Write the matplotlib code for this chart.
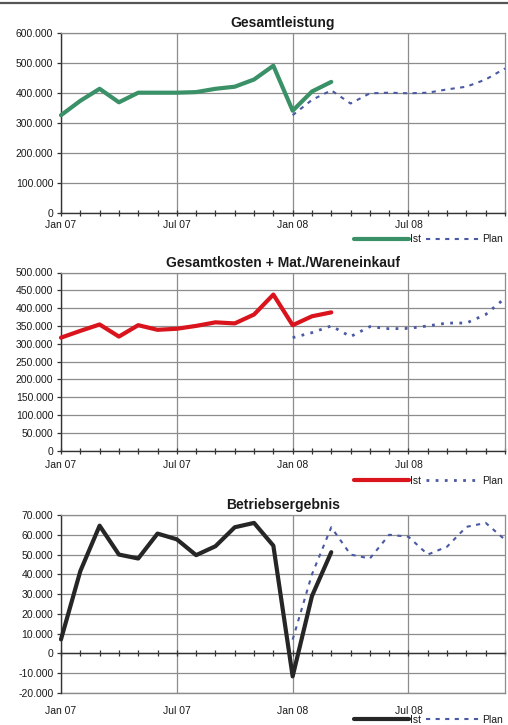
import matplotlib
matplotlib.use("Agg")
import matplotlib.pyplot as plt
from matplotlib.ticker import FixedLocator, FuncFormatter
from matplotlib.lines import Line2D

plt.rcParams['font.family'] = ['Liberation Sans', 'DejaVu Sans']

# ---------------- data ----------------
month_idx = list(range(24))            # Jan 07 .. Dec 08
ist_idx = list(range(15))              # Jan 07 .. Mar 08
plan_idx = list(range(12, 24))         # Jan 08 .. Dec 08
xtick_pos = [0, 6, 12, 18]
xtick_labels = ["Jan 07", "Jul 07", "Jan 08", "Jul 08"]

titles = ["Gesamtleistung", "Gesamtkosten + Mat./Wareneinkauf", "Betriebsergebnis"]
series_labels = ["Ist", "Plan"]

gl_ist = [325000, 373000, 413000, 368000, 400000, 400000, 400000, 402000,
          413000, 420000, 444000, 490000, 340000, 404000, 436000]
gl_plan = [325000, 376000, 408000, 364000, 398000, 400000, 398000, 400000,
           411000, 420000, 444000, 481000]

gk_ist = [317000, 336000, 354000, 320000, 352000, 339000, 342000, 350000,
          360000, 357000, 382000, 438000, 352000, 377000, 388000]
gk_plan = [317000, 331000, 350000, 320000, 348000, 342000, 343000, 350000,
           358000, 358000, 382000, 428000]

be_ist = [7100, 41600, 64600, 50000, 48000, 60600, 57700, 49700,
          54200, 63800, 66000, 54500, -11600, 29000, 51200]
be_plan = [7000, 40000, 63800, 50000, 48000, 60000, 59000, 50000,
           54000, 64000, 66000, 57500]

y_ticks = [list(range(0, 600001, 100000)),
           list(range(0, 500001, 50000)),
           list(range(-20000, 70001, 10000))]

# ---------------- style ----------------
ist_colors = ['#3a9167', '#d9141c', '#262626']
plan_color = '#4a59a3'
grid_color = '#8c8c8c'
axis_color = '#333333'
text_color = '#1a1a1a'
fs_tick = 7.5

fig = plt.figure(figsize=(5.08, 7.25), dpi=100)
W, H = 508.0, 725.0
left, right = 61, 505
boxes = [(32.7, 212.7), (272.5, 450.5), (515, 693)]
legend_y = [239.5, 481, 720]
label_pad = [5.5, 6.5, 9.5]
plan_dashes = [(2, 2.6), (1, 2.3), (2, 2.6)]
plan_lw = [1.5, 2.0, 1.5]

data = [(gl_ist, gl_plan), (gk_ist, gk_plan), (be_ist, be_plan)]

fmt = FuncFormatter(lambda v, p: f"{v:,.0f}".replace(",", "."))

# top border
fig.add_artist(Line2D([0, 1], [1 - 2.5 / H, 1 - 2.5 / H], transform=fig.transFigure,
                      color='#555555', lw=1.6))

for i, ((ist, plan), (top, bot)) in enumerate(zip(data, boxes)):
    ax = fig.add_axes([left / W, 1 - bot / H, (right - left) / W, (bot - top) / H])
    ax.set_axisbelow(True)
    l1, = ax.plot(ist_idx, ist, color=ist_colors[i], lw=3.0, solid_joinstyle='round',
                  solid_capstyle='round', clip_on=False, zorder=4)
    l2, = ax.plot(plan_idx, plan, color=plan_color, lw=plan_lw[i], linestyle=(0, plan_dashes[i]),
                  clip_on=False, zorder=3)

    ax.set_xlim(0, 23)
    ax.set_ylim(y_ticks[i][0], y_ticks[i][-1])
    ax.yaxis.set_major_locator(FixedLocator(y_ticks[i]))
    ax.yaxis.set_major_formatter(fmt)
    ax.xaxis.set_major_locator(FixedLocator(xtick_pos))
    ax.xaxis.set_minor_locator(FixedLocator(month_idx))
    ax.tick_params(axis='x', which='both', direction='inout', length=4, width=0.9,
                   color=axis_color, labelbottom=False)
    ax.tick_params(axis='y', direction='out', length=3, width=0.9, color=axis_color,
                   labelsize=fs_tick, labelcolor=text_color, pad=2.5)
    ax.grid(True, which='major', axis='both', color=grid_color, lw=0.9)

    for s in ['top', 'right']:
        ax.spines[s].set_color(grid_color)
        ax.spines[s].set_linewidth(0.9)
    ax.spines['left'].set_color(axis_color)
    ax.spines['bottom'].set_color(axis_color)
    ax.spines['left'].set_linewidth(1.0)
    ax.spines['bottom'].set_linewidth(1.0)
    if y_ticks[i][0] < 0:
        ax.spines['bottom'].set_position(('data', 0))
        ax.axhline(y_ticks[i][0], color=grid_color, lw=1.0, clip_on=False, zorder=1)

    sec = ax.secondary_xaxis('bottom')
    sec.set_xticks(xtick_pos, xtick_labels)
    sec.tick_params(length=0, labelsize=fs_tick, labelcolor=text_color, pad=label_pad[i])
    sec.spines['bottom'].set_visible(False)

    ax.set_title(titles[i], fontsize=10, fontweight='bold', color=text_color, pad=4)

    ax.legend([l1, l2], series_labels, loc='center right',
              bbox_to_anchor=(503 / W, 1 - legend_y[i] / H), bbox_transform=fig.transFigure,
              ncol=2, frameon=False, fontsize=fs_tick, handlelength=5.3,
              handletextpad=0.1, columnspacing=0.5, borderpad=0, borderaxespad=0,
              labelcolor=text_color)

fig.savefig("out.png", dpi=100, facecolor='white')
